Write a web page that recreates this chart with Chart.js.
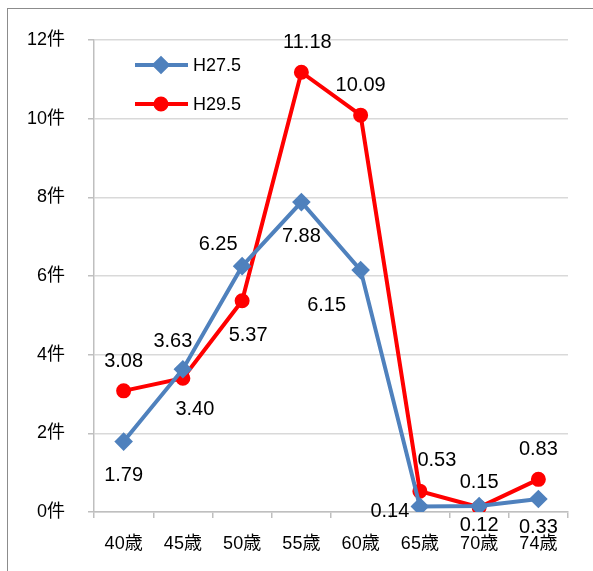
<!DOCTYPE html>
<html>
<head>
<meta charset="utf-8">
<script src="https://cdn.jsdelivr.net/npm/chart.js@4/dist/chart.umd.min.js"></script>
<style>
  html, body { margin: 0; padding: 0; background: #fff; }
  #wrap { position: relative; width: 593px; height: 571px; }
  #frame { position: absolute; left: 7px; top: 8px; width: 600px; height: 600px;
           border-top: 1.5px solid #8c8c8c; border-left: 1.5px solid #8c8c8c; }
  canvas { position: absolute; left: 0; top: 0; }
</style>
</head>
<body>
<div id="wrap">
  <div id="frame"></div>
  <canvas id="c" width="593" height="571"></canvas>
</div>
<script>
const ages = ['40歳', '45歳', '50歳', '55歳', '60歳', '65歳', '70歳', '74歳'];
const h27 = [1.79, 3.63, 6.25, 7.88, 6.15, 0.14, 0.15, 0.33];
const h29 = [3.08, 3.40, 5.37, 11.18, 10.09, 0.53, 0.12, 0.83];
const yTicks = [0, 2, 4, 6, 8, 10, 12];

// label offsets from each point, [dx, dy] in px
const offs27 = [[0, 34], [-10, -28], [-24, -22], [0, 34], [-34, 35], [-30, 5], [0, -24], [0, 28]];
const offs29 = [[0, -29], [12, 31], [6, 35], [6, -30], [0, -30], [17, -31], [0, 18], [0, -30]];

const fontFam = "'Liberation Sans', 'Noto Sans CJK JP', sans-serif";

const dataLabels = {
  id: 'dataLabels',
  afterDatasetsDraw(chart) {
    const ctx = chart.ctx;
    ctx.save();
    ctx.font = '20px ' + fontFam;
    ctx.fillStyle = '#000';
    ctx.textAlign = 'center';
    ctx.textBaseline = 'middle';
    chart.data.datasets.forEach((ds, i) => {
      const meta = chart.getDatasetMeta(i);
      meta.data.forEach((pt, j) => {
        const o = ds.offs[j];
        ctx.fillText(ds.data[j].toFixed(2), pt.x + o[0], pt.y + o[1]);
      });
    });
    ctx.restore();
  }
};

const insideLegend = {
  id: 'insideLegend',
  afterDraw(chart) {
    const ctx = chart.ctx;
    ctx.save();
    chart.data.datasets.forEach((ds, i) => {
      const y = 65 + i * 39;
      ctx.strokeStyle = ds.borderColor;
      ctx.lineWidth = ds.borderWidth;
      ctx.beginPath();
      ctx.moveTo(135, y);
      ctx.lineTo(188, y);
      ctx.stroke();
      Chart.helpers.drawPoint(ctx, {
        pointStyle: ds.pointStyle, radius: ds.pointRadius, borderWidth: 1
      }, 161, y);
      ctx.fillStyle = ds.pointBackgroundColor;
      ctx.fill();
      ctx.fillStyle = '#000';
      ctx.font = '18px ' + fontFam;
      ctx.textAlign = 'left';
      ctx.textBaseline = 'middle';
      ctx.fillText(ds.label, 193, y + 1);
    });
    ctx.restore();
  }
};

new Chart(document.getElementById('c'), {
  type: 'line',
  data: {
    labels: ages,
    datasets: [
      {
        label: 'H27.5', data: h27, offs: offs27,
        borderColor: '#4f81bd', backgroundColor: '#4f81bd',
        pointBackgroundColor: '#4f81bd', pointBorderColor: '#4f81bd',
        borderWidth: 4, pointStyle: 'rectRot', pointRadius: 6.5, pointHoverRadius: 6.5,
        tension: 0
      },
      {
        label: 'H29.5', data: h29, offs: offs29,
        borderColor: '#ff0000', backgroundColor: '#ff0000',
        pointBackgroundColor: '#ff0000', pointBorderColor: '#ff0000',
        borderWidth: 4, pointStyle: 'circle', pointRadius: 5.5, pointHoverRadius: 5.5,
        tension: 0
      }
    ]
  },
  options: {
    responsive: false,
    animation: false,
    events: [],
    layout: { padding: { left: 0, top: 40, right: 25, bottom: 0 } },
    plugins: { legend: { display: false }, tooltip: { enabled: false } },
    scales: {
      x: {
        offset: true,
        grid: { offset: true, drawOnChartArea: false, drawTicks: true, tickLength: 6, color: '#bfbfbf', lineWidth: 1.5 },
        border: { color: '#bfbfbf', width: 1.5 },
        ticks: { color: '#000', font: { family: fontFam, size: 18 }, padding: 15, maxRotation: 0 },
        afterFit: s => { s.height = 59; }
      },
      y: {
        min: 0, max: 12,
        afterBuildTicks: s => { s.ticks = yTicks.map(v => ({ value: v })); },
        grid: { color: '#d9d9d9', lineWidth: 1.5, tickLength: 6, tickColor: '#bfbfbf' },
        border: { color: '#bfbfbf', width: 1.5 },
        ticks: { color: '#000', font: { family: fontFam, size: 18 }, padding: 23, callback: v => v + '件' },
        afterFit: s => { s.width = 94; }
      }
    }
  },
  plugins: [dataLabels, insideLegend]
});
</script>
</body>
</html>
